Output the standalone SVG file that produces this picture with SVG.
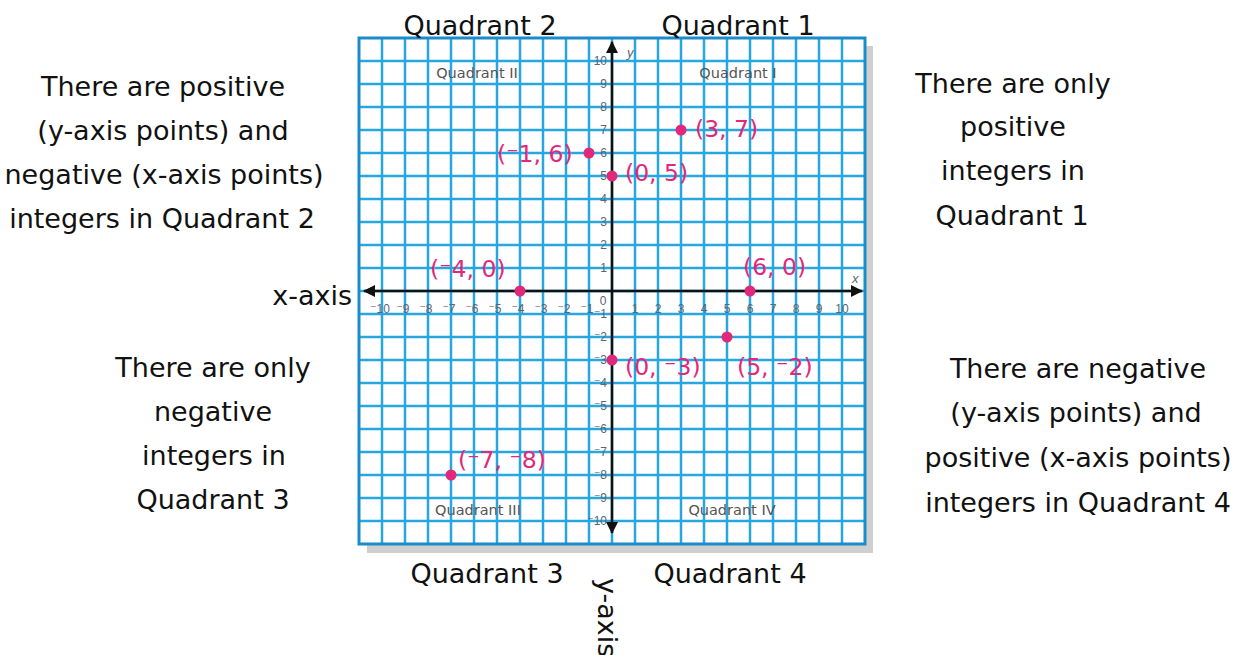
<svg xmlns="http://www.w3.org/2000/svg" width="1244" height="655" viewBox="0 0 1244 655">
<style>
.big{font-family:"DejaVu Sans","Liberation Sans",sans-serif;font-size:27px;fill:#111;text-anchor:middle}
.tick{font-family:"Liberation Sans","DejaVu Sans",sans-serif;font-size:12px;fill:#5b6670}
.ql{font-family:"DejaVu Sans","Liberation Sans",sans-serif;font-size:14.5px;fill:#555}
.pl{font-family:"DejaVu Sans","Liberation Sans",sans-serif;font-size:23.5px;fill:#e2287a}
.pt{fill:#e2287a}
.grid{stroke:#27a6df;stroke-width:2.5;fill:none}
</style>
<defs>
<marker id="ah" viewBox="0 0 12 12" refX="11" refY="6" markerWidth="12" markerHeight="12" markerUnits="userSpaceOnUse" orient="auto-start-reverse">
<path d="M0,0 L12,6 L0,12 z" fill="#111"/>
</marker>
</defs>
<rect width="1244" height="655" fill="#fff"/>

<g id="graph-paper">
<rect x="367" y="46" width="506" height="507" fill="#cfcfcf"/>
<rect x="359" y="38" width="506" height="506" fill="#fff"/>
<path class="grid" d="M382 38V544M405 38V544M428 38V544M451 38V544M474 38V544M497 38V544M520 38V544M543 38V544M566 38V544M589 38V544M612 38V544M635 38V544M658 38V544M681 38V544M704 38V544M727 38V544M750 38V544M773 38V544M796 38V544M819 38V544M842 38V544
M359 61H865M359 84H865M359 107H865M359 130H865M359 153H865M359 176H865M359 199H865M359 222H865M359 245H865M359 268H865M359 291H865M359 314H865M359 337H865M359 360H865M359 383H865M359 406H865M359 429H865M359 452H865M359 475H865M359 498H865M359 521H865"/>
<rect x="359" y="38" width="506" height="506" fill="none" stroke="#1c8bcc" stroke-width="3"/>
<text class="ql" x="477" y="78" text-anchor="middle">Quadrant II</text>
<text class="ql" x="738" y="78" text-anchor="middle">Quadrant I</text>
<text class="ql" x="478" y="515" text-anchor="middle">Quadrant III</text>
<text class="ql" x="732" y="515" text-anchor="middle">Quadrant IV</text>
</g>

<g id="connectors">
<line x1="612" y1="533" x2="612" y2="42" stroke="#111" stroke-width="2.5" marker-start="url(#ah)" marker-end="url(#ah)"/>
<line x1="364" y1="291" x2="862" y2="291" stroke="#111" stroke-width="2.5" marker-start="url(#ah)" marker-end="url(#ah)"/>
</g>

<g id="axis-labels" class="tick">
<text x="627" y="57" font-style="italic" font-size="13">y</text>
<text x="852" y="283" font-style="italic" font-size="13">x</text>
<g text-anchor="middle">
<text x="380" y="313">⁻10</text><text x="403" y="313">⁻9</text><text x="426" y="313">⁻8</text><text x="449" y="313">⁻7</text><text x="472" y="313">⁻6</text><text x="495" y="313">⁻5</text><text x="518" y="313">⁻4</text><text x="541" y="313">⁻3</text><text x="564" y="313">⁻2</text><text x="587" y="313">⁻1</text>
<text x="603" y="305">0</text>
<text x="635" y="313">1</text><text x="658" y="313">2</text><text x="681" y="313">3</text><text x="704" y="313">4</text><text x="727" y="313">5</text><text x="750" y="313">6</text><text x="773" y="313">7</text><text x="796" y="313">8</text><text x="819" y="313">9</text><text x="842" y="313">10</text>
</g>
<g text-anchor="end">
<text x="607" y="65">10</text><text x="607" y="88">9</text><text x="607" y="111">8</text><text x="607" y="134">7</text><text x="607" y="157">6</text><text x="607" y="180">5</text><text x="607" y="203">4</text><text x="607" y="226">3</text><text x="607" y="249">2</text><text x="607" y="272">1</text>
<text x="607" y="318">⁻1</text><text x="607" y="341">⁻2</text><text x="607" y="364">⁻3</text><text x="607" y="387">⁻4</text><text x="607" y="410">⁻5</text><text x="607" y="433">⁻6</text><text x="607" y="456">⁻7</text><text x="607" y="479">⁻8</text><text x="607" y="502">⁻9</text><text x="607" y="525">⁻10</text>
</g>
</g>

<g id="point-m1-6"><circle class="pt" cx="589" cy="153" r="5.5"/><text class="pl" x="497" y="162">(⁻1, 6)</text></g>
<g id="point-0-5"><circle class="pt" cx="612" cy="176" r="5.5"/><text class="pl" x="625" y="181">(0, 5)</text></g>
<g id="point-3-7"><circle class="pt" cx="681" cy="130" r="5.5"/><text class="pl" x="695" y="137">(3, 7)</text></g>
<g id="point-m4-0"><circle class="pt" cx="520" cy="291" r="5.5"/><text class="pl" x="430" y="277">(⁻4, 0)</text></g>
<g id="point-6-0"><circle class="pt" cx="750" cy="291" r="5.5"/><text class="pl" x="743" y="275">(6, 0)</text></g>
<g id="point-0-m3"><circle class="pt" cx="612" cy="360" r="5.5"/><text class="pl" x="625" y="375">(0, ⁻3)</text></g>
<g id="point-5-m2"><circle class="pt" cx="727" cy="337" r="5.5"/><text class="pl" x="737" y="375">(5, ⁻2)</text></g>
<g id="point-m7-m8"><circle class="pt" cx="451" cy="475" r="5.5"/><text class="pl" x="458" y="468">(⁻7, ⁻8)</text></g>

<g id="title-q2"><text class="big" x="480" y="35">Quadrant 2</text></g>
<g id="title-q1"><text class="big" x="738" y="35">Quadrant 1</text></g>
<g id="title-q3"><text class="big" x="487" y="583">Quadrant 3</text></g>
<g id="title-q4"><text class="big" x="730" y="583">Quadrant 4</text></g>
<g id="label-x-axis"><text class="big" x="352" y="305" style="text-anchor:end">x-axis</text></g>
<g id="label-y-axis"><text class="big" transform="translate(598,578) rotate(90)" x="0" y="0" style="text-anchor:start">y-axis</text></g>

<g id="note-q2">
<text class="big" x="163" y="96">There are positive</text>
<text class="big" x="163" y="140">(y-axis points) and</text>
<text class="big" x="164" y="184">negative (x-axis points)</text>
<text class="big" x="162" y="228">integers in Quadrant 2</text>
</g>
<g id="note-q1">
<text class="big" x="1013" y="93">There are only</text>
<text class="big" x="1013" y="136">positive</text>
<text class="big" x="1013" y="180">integers in</text>
<text class="big" x="1012" y="225">Quadrant 1</text>
</g>
<g id="note-q3">
<text class="big" x="213" y="377">There are only</text>
<text class="big" x="213" y="421">negative</text>
<text class="big" x="214" y="465">integers in</text>
<text class="big" x="213" y="509">Quadrant 3</text>
</g>
<g id="note-q4">
<text class="big" x="1078" y="378">There are negative</text>
<text class="big" x="1076" y="422">(y-axis points) and</text>
<text class="big" x="1078" y="467">positive (x-axis points)</text>
<text class="big" x="1078" y="512">integers in Quadrant 4</text>
</g>
</svg>
